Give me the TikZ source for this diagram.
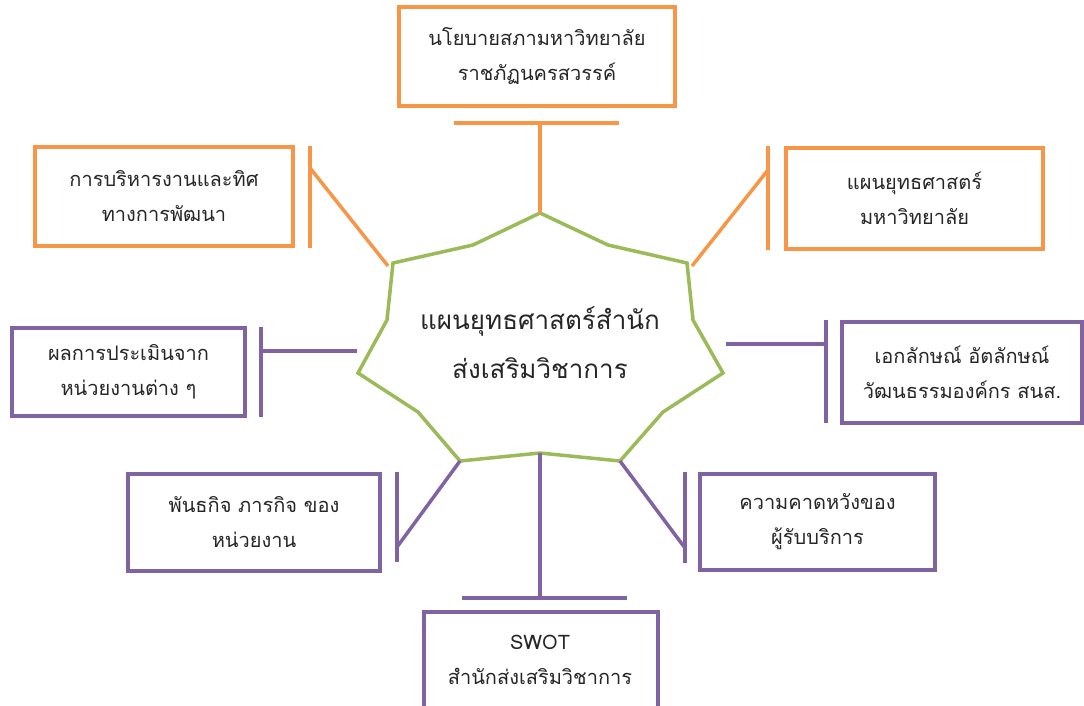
\documentclass[tikz,border=0pt]{standalone}
\usepackage{fontspec}
\newfontfamily\thaifont[Script=Thai]{Loma}
\definecolor{orng}{HTML}{F79646}
\definecolor{purp}{HTML}{8064A2}
\definecolor{grn}{HTML}{9BBB59}
\definecolor{txt}{HTML}{262626}
\begin{document}
\begin{tikzpicture}[x=1pt,y=-1pt,
  box/.style={draw, line width=4pt, fill=white, inner sep=0pt, align=center, text=txt,
    font=\thaifont\fontsize{20}{35}\selectfont},
  obox/.style={box, draw=orng},
  pbox/.style={box, draw=purp},
  oline/.style={draw=orng, line width=3.5pt},
  pline/.style={draw=purp, line width=3.5pt},
]
\useasboundingbox (0,0) rectangle (1084,705);
\clip (0,0) rectangle (1084,705);

% star
\coordinate (s1) at (540,213);
\coordinate (s2) at (608,245);
\coordinate (s3) at (687,263);
\coordinate (s4) at (693,320);
\coordinate (s5) at (723,373);
\coordinate (s6) at (663,412);
\coordinate (s7) at (620,461);
\coordinate (s8) at (540,453);
\coordinate (s9) at (460,461);
\coordinate (s10) at (418,412);
\coordinate (s11) at (358,373);
\coordinate (s12) at (387,320);
\coordinate (s13) at (393,263);
\coordinate (s14) at (473,245);
\draw[grn, line width=3.5pt, line join=miter] (s1)--(s2)--(s3)--(s4)--(s5)--(s6)--(s7)--(s8)--(s9)--(s10)--(s11)--(s12)--(s13)--(s14)--cycle;
\node[align=center, text=txt, font=\thaifont\fontsize{26}{49}\selectfont] (center) at (540,343) {แผนยุทธศาสตร์สำนัก\\ส่งเสริมวิชาการ};

% boxes
\node[obox, minimum width=276, minimum height=99] (top) at (537,56.5) {นโยบายสภามหาวิทยาลัย\\ราชภัฏนครสวรรค์};
\node[obox, minimum width=258, minimum height=99] (lo) at (164,196.5) {การบริหารงานและทิศ\\ทางการพัฒนา};
\node[obox, minimum width=257, minimum height=101] (ro) at (914.5,198) {แผนยุทธศาสตร์\\มหาวิทยาลัย};
\node[pbox, minimum width=233, minimum height=88] (lp) at (128.5,372) {ผลการประเมินจาก\\หน่วยงานต่าง ๆ};
\node[pbox, minimum width=240, minimum height=101] (rp) at (962,372.5) {เอกลักษณ์ อัตลักษณ์\\วัฒนธรรมองค์กร สนส.};
\node[pbox, minimum width=252, minimum height=97] (bl) at (254,522.5) {พันธกิจ ภารกิจ ของ\\หน่วยงาน};
\node[pbox, minimum width=235, minimum height=96] (br) at (817.5,522) {ความคาดหวังของ\\ผู้รับบริการ};
\node[pbox, minimum width=234, minimum height=150] (bot) at (541,687) {};
\node[align=center, text=txt, font=\thaifont\fontsize{20}{35}\selectfont] (bottxt) at (540,660) {SWOT\\สำนักส่งเสริมวิชาการ};

% top connector
\coordinate (tbL) at (454,123);
\coordinate (tbR) at (619,123);
\coordinate (tbM) at (540,123);
\draw[oline] (tbL)--(tbR);
\draw[oline] (tbM)--(s1);

% left orange
\coordinate (loT) at (310,146);
\coordinate (loB) at (310,248);
\coordinate (loM) at (310,168);
\coordinate (loE) at (388,266);
\draw[oline] (loT)--(loB);
\draw[oline] (loM)--(loE);

% right orange
\coordinate (roT) at (768,146);
\coordinate (roB) at (768,250);
\coordinate (roM) at (768,170);
\coordinate (roE) at (692,266);
\draw[oline] (roT)--(roB);
\draw[oline] (roM)--(roE);

% left purple
\coordinate (lpT) at (261,327);
\coordinate (lpB) at (261,417);
\coordinate (lpM) at (261,351);
\coordinate (lpE) at (357,351);
\draw[pline] (lpT)--(lpB);
\draw[pline] (lpM)--(lpE);

% right purple
\coordinate (rpT) at (826,320);
\coordinate (rpB) at (826,423);
\coordinate (rpM) at (826,344);
\coordinate (rpE) at (726,344);
\draw[pline] (rpT)--(rpB);
\draw[pline] (rpM)--(rpE);

% bottom-left purple
\coordinate (blT) at (397,472);
\coordinate (blB) at (397,562);
\coordinate (blM) at (397,547);
\draw[pline] (blT)--(blB);
\draw[pline] (blM)--(s9);

% bottom-right purple
\coordinate (brT) at (685,472);
\coordinate (brB) at (685,563);
\coordinate (brM) at (685,548);
\draw[pline] (brT)--(brB);
\draw[pline] (brM)--(s7);

% bottom connector
\coordinate (bbL) at (462,598);
\coordinate (bbR) at (627,598);
\coordinate (bbM) at (540,598);
\draw[pline] (bbL)--(bbR);
\draw[pline] (bbM)--(s8);
\end{tikzpicture}
\end{document}
